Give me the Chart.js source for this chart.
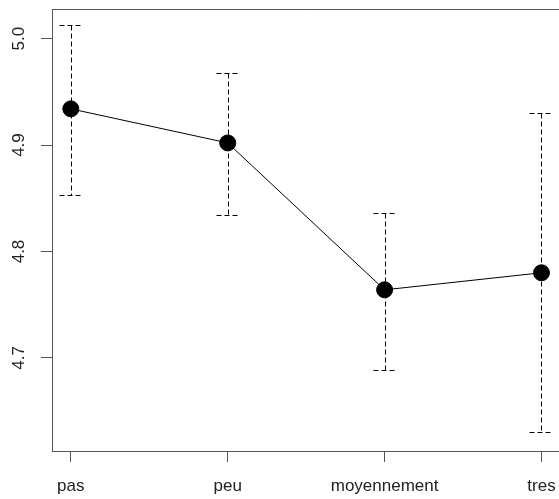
<!DOCTYPE html>
<html>
<head>
<meta charset="utf-8">
<script src="https://cdn.jsdelivr.net/npm/chart.js@4"></script>
<style>
  html, body { margin: 0; padding: 0; background: #fff; overflow: hidden; }
  #wrap { position: absolute; left: 0; top: 0; width: 570px; height: 499px; }
</style>
</head>
<body>
<div id="wrap"><canvas id="plot" width="570" height="499"></canvas></div>
<script>
// data
const categories = ["pas", "peu", "moyennement", "tres"];
const means = [4.934, 4.902, 4.764, 4.780];
const upper = [5.013, 4.968, 4.836, 4.930];
const lower = [4.853, 4.834, 4.689, 4.630];
const yTicks = [4.7, 4.8, 4.9, 5.0];

const axisColor = "#555";
const font = { family: "'Liberation Sans', Arial, sans-serif", size: 17 };

// dashed error bars with caps, behind the points
const errorBars = {
  id: "errorBars",
  beforeDatasetsDraw: (chart) => {
    const ctx = chart.ctx;
    const x = chart.scales.x;
    const y = chart.scales.y;
    ctx.save();
    ctx.strokeStyle = "#000";
    ctx.lineWidth = 1;
    ctx.setLineDash([5, 3]);
    categories.forEach((c, i) => {
      const px = Math.round(x.getPixelForValue(i + 1)) + 0.5;
      const top = Math.round(y.getPixelForValue(upper[i])) + 0.5;
      const bot = Math.round(y.getPixelForValue(lower[i])) + 0.5;
      ctx.beginPath();
      ctx.moveTo(px, top);
      ctx.lineTo(px, bot);
      ctx.moveTo(px - 12, top);
      ctx.lineTo(px + 12, top);
      ctx.moveTo(px - 12, bot);
      ctx.lineTo(px + 12, bot);
      ctx.stroke();
    });
    ctx.restore();
  },
};

// box top edge + rotated y labels (R style)
const rFrame = {
  id: "rFrame",
  afterDraw: (chart) => {
    const ctx = chart.ctx;
    const a = chart.chartArea;
    const y = chart.scales.y;
    ctx.save();
    ctx.strokeStyle = axisColor;
    ctx.lineWidth = 1;
    ctx.beginPath();
    ctx.moveTo(a.left, Math.round(a.top) + 0.5);
    ctx.lineTo(a.right + 10, Math.round(a.top) + 0.5);
    ctx.stroke();
    ctx.fillStyle = "#222";
    ctx.font = font.size + "px " + font.family;
    ctx.textAlign = "center";
    ctx.textBaseline = "middle";
    yTicks.forEach((v) => {
      ctx.save();
      ctx.translate(19, y.getPixelForValue(v));
      ctx.rotate(-Math.PI / 2);
      ctx.fillText(v.toFixed(1), 0, 0);
      ctx.restore();
    });
    ctx.restore();
  },
};

new Chart(document.getElementById("plot"), {
  type: "line",
  data: {
    datasets: [
      {
        data: means.map((m, i) => ({ x: i + 1, y: m })),
        borderColor: "#000",
        borderWidth: 1,
        pointRadius: 8,
        pointBackgroundColor: "#000",
        pointBorderColor: "#000",
        tension: 0,
      },
    ],
  },
  plugins: [errorBars, rFrame],
  options: {
    responsive: false,
    animation: false,
    layout: { padding: { top: 8, left: 0, right: 8, bottom: 0 } },
    plugins: { legend: { display: false }, tooltip: { enabled: false } },
    scales: {
      x: {
        type: "linear",
        min: 0.88,
        max: 4.12,
        afterBuildTicks: (s) => {
          s.ticks = categories.map((c, i) => ({ value: i + 1 }));
        },
        afterFit: (s) => {
          s.height = 48;
        },
        ticks: {
          callback: (v) => categories[v - 1],
          color: "#222",
          font: font,
          padding: 14,
          maxRotation: 0,
          autoSkip: false,
        },
        grid: { drawOnChartArea: false, tickLength: 11, color: axisColor },
        border: { color: axisColor },
      },
      y: {
        min: 4.6126,
        max: 5.0278,
        afterBuildTicks: (s) => {
          s.ticks = yTicks.map((v) => ({ value: v }));
        },
        afterFit: (s) => {
          s.width = 52;
        },
        ticks: { color: "rgba(0,0,0,0)", font: { size: 1 }, padding: 0 },
        grid: { drawOnChartArea: false, tickLength: 11, color: axisColor },
        border: { color: axisColor },
      },
    },
  },
});
</script>
</body>
</html>
